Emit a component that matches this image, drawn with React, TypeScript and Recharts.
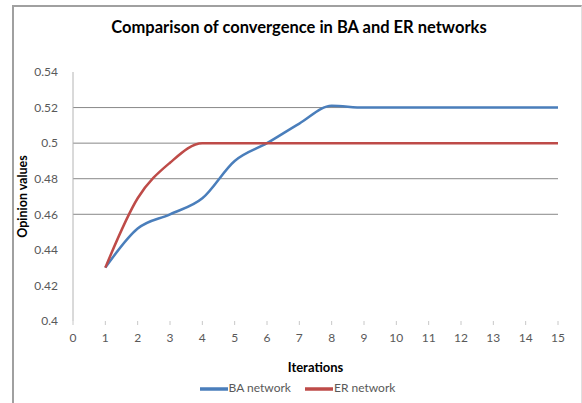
import React from 'react';
import { LineChart, Line, XAxis, YAxis, CartesianGrid, Legend, Label } from 'recharts';

// values
const iterations = [1, 2, 3, 4, 5, 6, 7, 8, 9, 10, 11, 12, 13, 14, 15];
const baNetwork = [0.43, 0.452, 0.46, 0.469, 0.49, 0.5, 0.511, 0.521, 0.52, 0.52, 0.52, 0.52, 0.52, 0.52, 0.52];
const erNetwork = [0.43, 0.469, 0.489, 0.5, 0.5, 0.5, 0.5, 0.5, 0.5, 0.5, 0.5, 0.5, 0.5, 0.5, 0.5];
const xTicks = [0, 1, 2, 3, 4, 5, 6, 7, 8, 9, 10, 11, 12, 13, 14, 15];
const yTicks = [0.4, 0.42, 0.44, 0.46, 0.48, 0.5, 0.52, 0.54];
const gridValues = [0.46, 0.48, 0.5, 0.52];

const data = iterations.map((it, i) => ({ it, ba: baNetwork[i], er: erNetwork[i] }));

const FONT = 'Lato, "Open Sans", sans-serif';
const tickStyle = { fontSize: 12, fill: '#595959', fontFamily: FONT };

export default function App() {
  return (
    <div style={{ position: 'absolute', left: 0, top: 0, width: 582, height: 403, background: '#fff', fontFamily: FONT }}>
      <div style={{ position: 'absolute', left: 12, top: 5, width: 570, height: 398, borderTop: '2px solid #a0a0a0', borderLeft: '2px solid #a0a0a0', borderRight: '1px solid #e0e0e0', boxSizing: 'border-box' }} />
      <div style={{ position: 'absolute', left: 0, top: 17, width: 598, textAlign: 'center', fontSize: 16.5, fontWeight: 700, color: '#000' }}>
        Comparison of convergence in BA and ER networks
      </div>
      <div style={{ position: 'absolute', left: 0, top: 0 }}>
        <LineChart width={582} height={403} data={data} margin={{ top: 72, right: 24, left: 13, bottom: 24 }}>
          <CartesianGrid vertical={false} horizontalValues={gridValues} stroke="#888888" strokeWidth={1} />
          <XAxis
            dataKey="it"
            type="number"
            domain={[0, 15]}
            ticks={xTicks}
            interval={0}
            axisLine={false}
            tickLine={{ stroke: '#c8c8c8' }}
            tickSize={4}
            tickMargin={8}
            tick={tickStyle}
            height={30}
          >
            <Label value="Iterations" position="bottom" offset={12} style={{ fontSize: 13, fontWeight: 700, fill: '#000', fontFamily: FONT }} />
          </XAxis>
          <YAxis
            type="number"
            domain={[0.4, 0.54]}
            ticks={yTicks}
            interval={0}
            axisLine={{ stroke: '#b4b4b4' }}
            tickLine={false}
            tickMargin={9}
            tick={tickStyle}
            width={60}
          >
            <Label value="Opinion values" angle={-90} position="insideLeft" offset={10} style={{ fontSize: 12.5, fontWeight: 700, fill: '#000', fontFamily: FONT, textAnchor: 'middle' }} />
          </YAxis>
          <Legend
            verticalAlign="bottom"
            align="center"
            iconType="plainline"
            iconSize={28}
            wrapperStyle={{ fontSize: 12, fontFamily: FONT, bottom: 0, left: 32 }}
            formatter={(v) => <span style={{ color: '#595959', marginLeft: -3, marginRight: 4 }}>{v}</span>}
          />
          <Line type="monotone" dataKey="ba" name="BA network" stroke="#4a7ebb" strokeWidth={2.5} dot={false} isAnimationActive={false} />
          <Line type="monotone" dataKey="er" name="ER network" stroke="#be4b48" strokeWidth={2.5} dot={false} isAnimationActive={false} />
        </LineChart>
      </div>
    </div>
  );
}
